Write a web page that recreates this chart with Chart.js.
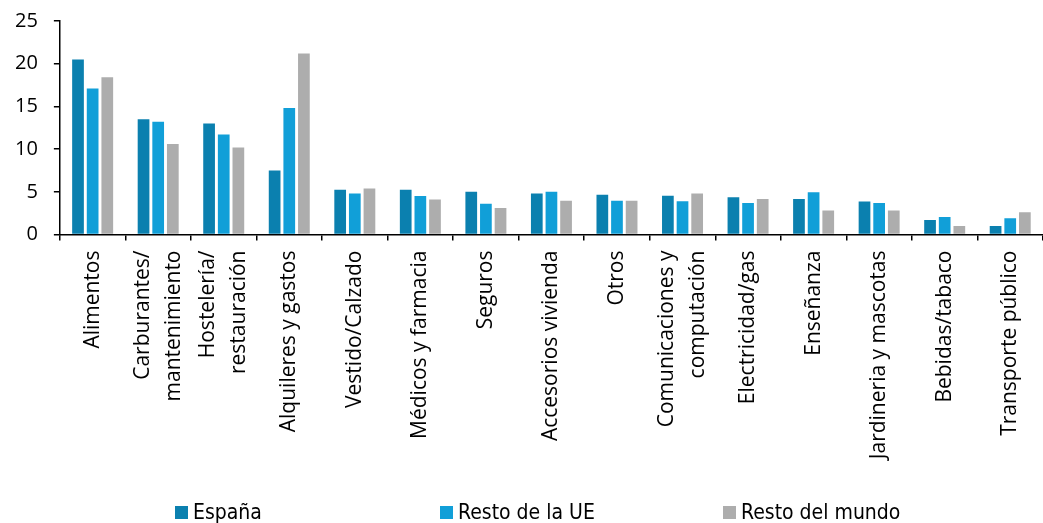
<!DOCTYPE html>
<html>
<head>
<meta charset="utf-8">
<script src="https://cdn.jsdelivr.net/npm/chart.js@4.4.0/dist/chart.umd.min.js"></script>
<style>
  html, body { margin: 0; padding: 0; background: #fff; }
  #wrap { position: relative; width: 1043px; height: 523px; overflow: hidden; }
  #legend { position: absolute; left: 0; top: 500px; width: 1043px; height: 22px;
            font-family: "Liberation Sans Narrow", "DejaVu Sans Condensed", "Open Sans", sans-serif; font-size: 21px; color: #000; }
  .item { position: absolute; top: 0; display: flex; align-items: center; white-space: nowrap; }
  .box { width: 13px; height: 13px; margin-right: 5px; }
</style>
</head>
<body>
<div id="wrap">
  <canvas id="chart" width="1043" height="523"></canvas>
  <div id="legend"></div>
</div>
<script>
const categories = [
  "Alimentos",
  ["Carburantes/", "mantenimiento"],
  ["Hostelería/", "restauración"],
  "Alquileres y gastos",
  "Vestido/Calzado",
  "Médicos y farmacia",
  "Seguros",
  "Accesorios vivienda",
  "Otros",
  ["Comunicaciones y", "computación"],
  "Electricidad/gas",
  "Enseñanza",
  "Jardineria y mascotas",
  "Bebidas/tabaco",
  "Transporte público"
];
const espana      = [20.5, 13.5, 13.0, 7.5, 5.25, 5.25, 5.0, 4.8, 4.65, 4.55, 4.35, 4.15, 3.85, 1.7, 1.0];
const restoUE     = [17.1, 13.2, 11.7, 14.8, 4.8, 4.5, 3.6, 5.0, 3.95, 3.9, 3.7, 4.95, 3.7, 2.05, 1.9];
const restoMundo  = [18.4, 10.6, 10.2, 21.2, 5.4, 4.1, 3.1, 3.95, 3.95, 4.8, 4.15, 2.8, 2.8, 1.0, 2.6];
const yTicks = [0, 5, 10, 15, 20, 25];

const font = "'Open Sans', sans-serif";
const xFontSize = 21;
const xLineGap = 31;

// x labels are drawn here so that two-line labels sit centred on their category
const xLabels = {
  id: "xLabels",
  afterDraw(chart) {
    const xs = chart.scales.x;
    const c = chart.ctx;
    const top = xs.top + 6 + 10;
    c.save();
    c.font = `${xFontSize}px ${font}`;
    c.fillStyle = "#000";
    c.textAlign = "right";
    c.textBaseline = "middle";
    chart.data.labels.forEach((lab, i) => {
      const lines = [].concat(lab);
      const x0 = xs.getPixelForTick(i);
      lines.forEach((t, j) => {
        c.save();
        c.translate(x0 + (j - (lines.length - 1) / 2) * xLineGap, top);
        c.rotate(-Math.PI / 2);
        c.fillText(t, 0, 0);
        c.restore();
      });
    });
    c.restore();
  }
};

const ctx = document.getElementById("chart").getContext("2d");
const chart = new Chart(ctx, {
  type: "bar",
  data: {
    labels: categories,
    datasets: [
      { label: "España", data: espana, backgroundColor: "#0b80af" },
      { label: "Resto de la UE", data: restoUE, backgroundColor: "#119fd8" },
      { label: "Resto del mundo", data: restoMundo, backgroundColor: "#adadad" }
    ]
  },
  options: {
    responsive: false,
    animation: false,
    datasets: {
      bar: { categoryPercentage: 0.67, barPercentage: 0.8, borderWidth: 0 }
    },
    layout: { padding: { left: -1, right: -5, top: 21, bottom: 75 } },
    plugins: {
      legend: { display: false },
      tooltip: { enabled: false }
    },
    scales: {
      x: {
        afterFit: s => { s.paddingLeft = 0; s.paddingRight = 0; },
        grid: { drawOnChartArea: false, drawTicks: true, tickLength: 6, color: "#000", lineWidth: 1.5 },
        border: { display: true, color: "#000", width: 1.5 },
        ticks: {
          color: "rgba(0,0,0,0)",
          font: { family: font, size: xFontSize, lineHeight: 1.45 },
          minRotation: 90, maxRotation: 90,
          padding: 10,
          autoSkip: false
        }
      },
      y: {
        min: 0, max: 25,
        afterBuildTicks: axis => { axis.ticks = yTicks.map(v => ({ value: v })); },
        afterFit: s => { s.paddingTop = 0; s.paddingBottom = 0; },
        grid: { drawOnChartArea: false, drawTicks: true, tickLength: 6, color: "#000", lineWidth: 1.5 },
        border: { display: true, color: "#000", width: 1.5 },
        ticks: { color: "#000", font: { family: font, size: 20 }, padding: 16 }
      }
    }
  },
  plugins: [xLabels]
});

// legend below the chart
const legendX = [175, 440, 723];
const legend = document.getElementById("legend");
chart.data.datasets.forEach((ds, i) => {
  const item = document.createElement("div");
  item.className = "item";
  item.style.left = legendX[i] + "px";
  item.innerHTML = `<span class="box" style="background:${ds.backgroundColor}"></span>${ds.label}`;
  legend.appendChild(item);
});
</script>
</body>
</html>
